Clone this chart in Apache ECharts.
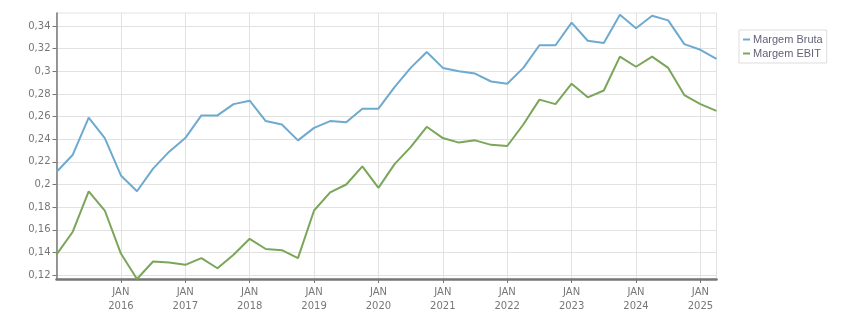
<!DOCTYPE html>
<html>
<head>
<meta charset="utf-8">
<script src="https://cdn.jsdelivr.net/npm/echarts@6/dist/echarts.min.js"></script>
<style>html,body{margin:0;padding:0;background:#fff}#c{width:851px;height:313px}</style>
</head>
<body>
<div id="c"></div>
<script>
const quarters = ["2015-01","2015-04","2015-07","2015-10","2016-01","2016-04","2016-07","2016-10","2017-01","2017-04","2017-07","2017-10","2018-01","2018-04","2018-07","2018-10","2019-01","2019-04","2019-07","2019-10","2020-01","2020-04","2020-07","2020-10","2021-01","2021-04","2021-07","2021-10","2022-01","2022-04","2022-07","2022-10","2023-01","2023-04","2023-07","2023-10","2024-01","2024-04","2024-07","2024-10","2025-01","2025-04"];
const margemBruta = [0.211,0.226,0.259,0.241,0.208,0.194,0.214,0.229,0.241,0.261,0.261,0.271,0.274,0.256,0.253,0.239,0.250,0.256,0.255,0.267,0.267,0.286,0.303,0.317,0.303,0.300,0.298,0.291,0.289,0.303,0.323,0.323,0.343,0.327,0.325,0.350,0.338,0.349,0.345,0.324,0.319,0.311];
const margemEBIT = [0.138,0.158,0.194,0.177,0.139,0.1165,0.132,0.131,0.129,0.135,0.126,0.138,0.152,0.143,0.142,0.135,0.177,0.193,0.200,0.216,0.197,0.218,0.233,0.251,0.241,0.237,0.239,0.235,0.234,0.253,0.275,0.271,0.289,0.277,0.283,0.313,0.304,0.313,0.303,0.279,0.271,0.265];
const yTicks = [0.12,0.14,0.16,0.18,0.20,0.22,0.24,0.26,0.28,0.30,0.32,0.34];

const chart = echarts.init(document.getElementById('c'), null, {renderer:'canvas'});
const font = 'DejaVu Sans';
const isJan = (i) => i > 0 && i % 4 === 0;
chart.setOption({
  animation: false,
  backgroundColor: '#fff',
  grid: {left: 56.5, right: 134.5, top: 13, bottom: 34, show: true, borderColor: '#e2e2e2', borderWidth: 1, backgroundColor: 'transparent'},
  legend: {
    data: ['Margem Bruta','Margem EBIT'],
    orient: 'vertical', left: 739, top: 30,
    padding: [3,4,3,4], itemGap: 1, itemWidth: 7, itemHeight: 2,
    icon: 'rect',
    backgroundColor: '#fff', borderColor: '#ddd', borderWidth: 1, borderRadius: 0,
    textStyle: {fontFamily: 'Liberation Sans', fontSize: 11, color: '#62627a', padding: [0,0,0,-2], lineHeight: 13}
  },
  xAxis: {
    type: 'category', data: quarters, boundaryGap: false,
    axisLine: {lineStyle: {color: '#777', width: 2.5}},
    axisTick: {interval: isJan, length: 4, lineStyle: {color: '#777'}},
    axisLabel: {interval: isJan, color: '#777', fontFamily: font, fontSize: 10, lineHeight: 13.5, margin: 7,
      formatter: (v) => 'JAN\n' + v.slice(0,4)},
    splitLine: {show: true, interval: isJan, lineStyle: {color: '#e2e2e2', width: 1}}
  },
  yAxis: {
    type: 'value', min: 0.1165, max: 0.3515,
    axisLine: {show: true, lineStyle: {color: '#777', width: 1.5}},
    axisTick: {show: true, length: 4, customValues: yTicks, lineStyle: {color: '#777'}},
    axisLabel: {customValues: yTicks, color: '#777', fontFamily: font, fontSize: 10, margin: 6,
      formatter: (v) => String(parseFloat(v.toFixed(2))).replace('.', ',')},
    splitLine: {show: true, lineStyle: {color: '#e2e2e2', width: 1}}
  },
  series: [
    {name: 'Margem Bruta', type: 'line', data: margemBruta, showSymbol: false, symbol: 'none',
     lineStyle: {color: '#6eaacf', width: 2}, itemStyle: {color: '#6eaacf'}},
    {name: 'Margem EBIT', type: 'line', data: margemEBIT, showSymbol: false, symbol: 'none',
     lineStyle: {color: '#7aa65a', width: 2}, itemStyle: {color: '#7aa65a'}}
  ]
});
</script>
</body>
</html>
